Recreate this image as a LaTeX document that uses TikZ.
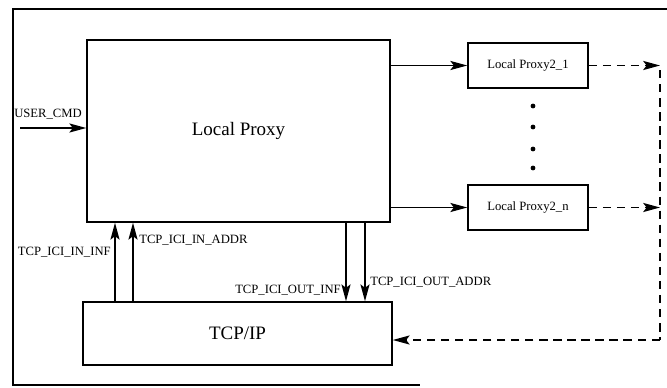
\documentclass[tikz,border=0pt]{standalone}
\usepackage{fontspec}
\setmainfont{Liberation Serif}
\usetikzlibrary{arrows.meta}
\tikzset{
    block/.style = {
        draw,
        line width=1.1pt,
        inner sep=0pt
    },
    flow/.style = {
        line width=0.9pt,
        -{Stealth[length=12pt,width=6.5pt,inset=2.5pt]}
    },
    back/.style = {
        flow,
        dashed,
        dash pattern=on 6pt off 4pt
    },
    tag/.style = {
        font=\fontsize{9}{10}\selectfont,
        inner sep=0pt
    }
}

\begin{document}
\begin{tikzpicture}[x=0.025cm,y=-0.025cm]
    \useasboundingbox (0,0) rectangle (667,388);
    % Outer frame
    \draw[line width=1.1pt] (667,9) -- (13,9) -- (13,385) -- (420,385);

    % Blocks
    \node[block, minimum width=7.575cm, minimum height=4.55cm,
          font=\fontsize{13.5}{15}\selectfont] (lp) at (238.5,131) {Local Proxy};
    \node[block, minimum width=3cm, minimum height=1.125cm,
          font=\fontsize{9}{10}\selectfont] (lp1) at (528,65.5) {Local Proxy2\_1};
    \node[block, minimum width=3cm, minimum height=1.125cm,
          font=\fontsize{9}{10}\selectfont] (lpn) at (528,207.5) {Local Proxy2\_n};
    \node[block, minimum width=7.725cm, minimum height=1.575cm,
          font=\fontsize{13.5}{15}\selectfont] (tcp) at (237.5,333.5) {TCP/IP};

    % Dots between the proxies
    \foreach \y in {106,127,149,168}
        \fill (533,\y) circle (2.4);

    % User command
    \coordinate (cmd) at (20,128);
    \draw[flow] (cmd) -- (cmd -| lp.west);
    \node[tag, anchor=west] (cmdtag) at (14,114) {USER\_CMD};

    % Local Proxy to the second level
    \draw[flow] (lp1.west -| lp.east) -- (lp1.west);
    \draw[flow] (lpn.west -| lp.east) -- (lpn.west);

    % Dashed return path
    \coordinate (rt1) at (660,65.5);
    \coordinate (rtn) at (660,207.5);
    \coordinate (rtop) at (660,70);
    \coordinate (rbot) at (660,340);
    \draw[back] (lp1.east) -- (rt1);
    \draw[back] (lpn.east) -- (rtn);
    \draw[dashed, dash pattern=on 6pt off 4pt, line width=0.9pt] (rtop) -- (rbot);
    \draw[back] (rbot) -- (rbot -| tcp.east);

    % TCP/IP up to Local Proxy
    \coordinate (in1) at (115,0);
    \coordinate (in2) at (133,0);
    \draw[flow] (tcp.north -| in1) -- (lp.south -| in1);
    \draw[flow] (tcp.north -| in2) -- (lp.south -| in2);
    \node[tag, anchor=east] (ininf) at (111,252) {TCP\_ICI\_IN\_INF};
    \node[tag, anchor=west] (inaddr) at (139,240) {TCP\_ICI\_IN\_ADDR};

    % Local Proxy down to TCP/IP
    \coordinate (out1) at (346,0);
    \coordinate (out2) at (365,0);
    \draw[flow] (lp.south -| out1) -- (tcp.north -| out1);
    \draw[flow] (lp.south -| out2) -- (tcp.north -| out2);
    \node[tag, anchor=east] (outinf) at (341,290) {TCP\_ICI\_OUT\_INF};
    \node[tag, anchor=west] (outaddr) at (370,282) {TCP\_ICI\_OUT\_ADDR};
\end{tikzpicture}
\end{document}
